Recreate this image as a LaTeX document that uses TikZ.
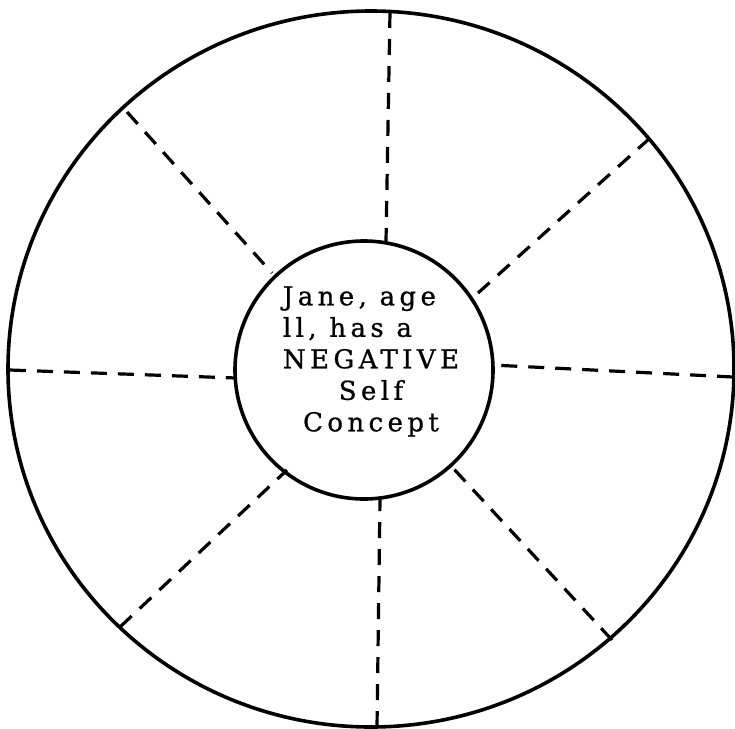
\documentclass[tikz,border=0pt]{standalone}
\usepackage{fontspec}
\setmainfont{DejaVu Serif}[LetterSpace=17,FakeBold=0.8]
\usetikzlibrary{shapes.geometric}
\begin{document}
\begin{tikzpicture}[x=1pt,y=-1pt,
  ring/.style={draw,line width=3.6pt},
  spoke/.style={line width=3.2pt,dash pattern=on 16pt off 11pt},
  label/.style={font=\fontsize{26}{31.5}\selectfont,inner sep=0pt}]
\useasboundingbox (0,0) rectangle (735,728);
\fill[white] (0,0) rectangle (735,728);
\draw[ring] (371,369) ellipse [x radius=363, y radius=358];
\node[ring,circle,minimum size=258pt,inner sep=0pt] (c) at (364,370) {};
\node[label] (t) at (371,362) {\begin{tabular}{@{}l@{}}Jane, age\\ ll, has a\\ NEGATIVE\\ \multicolumn{1}{@{}c@{}}{Self}\\ \multicolumn{1}{@{}c@{}}{Concept}\end{tabular}};
\coordinate (o1) at (390,12);
\coordinate (o2) at (650,138);
\coordinate (o3) at (733,377);
\coordinate (o4) at (612,640);
\coordinate (o5) at (377,727);
\coordinate (o6) at (120,627);
\coordinate (o7) at (10,370);
\coordinate (o8) at (127,112);
\coordinate (i1) at (386,241);
\coordinate (i2) at (478,293);
\coordinate (i3) at (492,365);
\coordinate (i4) at (452,467);
\coordinate (i5) at (380,499);
\coordinate (i6) at (287,470);
\coordinate (i7) at (236,378);
\coordinate (i8) at (272,273);
\foreach \k in {1,...,8}{\draw[spoke] (o\k) -- (i\k);}
\end{tikzpicture}
\end{document}
